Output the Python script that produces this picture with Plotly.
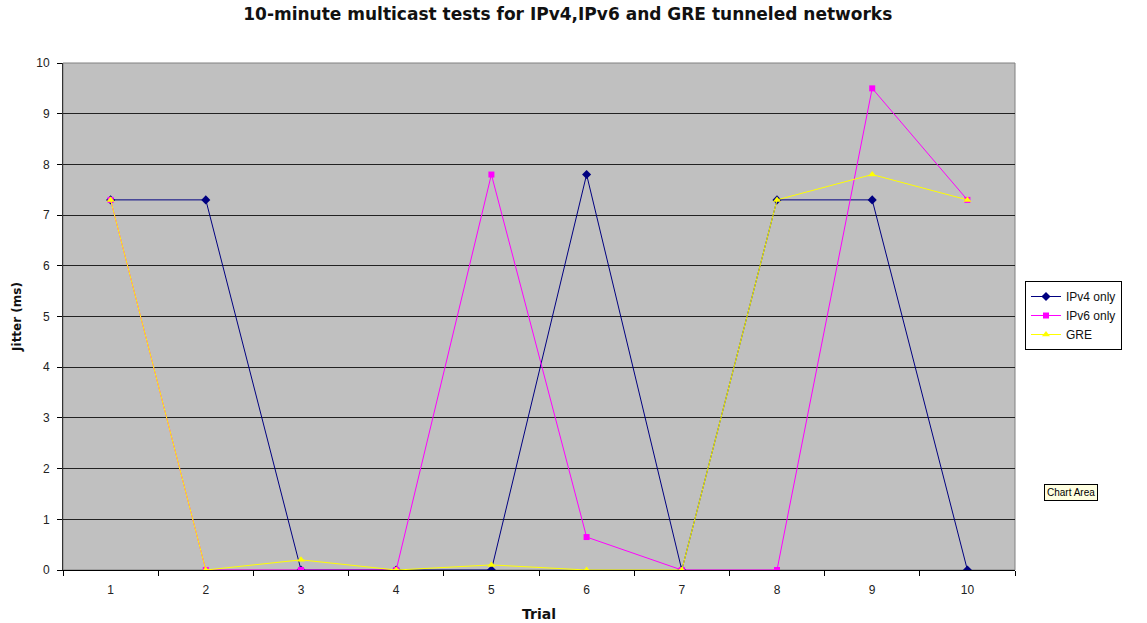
import plotly.graph_objects as go

trials = ["1", "2", "3", "4", "5", "6", "7", "8", "9", "10"]
ipv4 = [7.3, 7.3, 0, 0, 0, 7.8, 0, 7.3, 7.3, 0]
ipv6 = [7.3, 0, 0, 0, 7.8, 0.65, 0, 0, 9.5, 7.3]
gre = [7.3, 0, 0.2, 0, 0.1, 0, 0, 7.3, 7.8, 7.3]
y_ticks = [0, 1, 2, 3, 4, 5, 6, 7, 8, 9, 10]

fig = go.Figure()
fig.add_trace(go.Scatter(x=trials, y=ipv4, name="IPv4 only", mode="lines+markers",
                         line=dict(color="#000080", width=1),
                         marker=dict(symbol="diamond", size=7, color="#000080")))
fig.add_trace(go.Scatter(x=trials, y=ipv6, name="IPv6 only", mode="lines+markers",
                         line=dict(color="#FF00FF", width=1),
                         marker=dict(symbol="square", size=6, color="#FF00FF")))
fig.add_trace(go.Scatter(x=trials, y=gre, name="GRE", mode="lines+markers",
                         line=dict(color="#FFFF00", width=1),
                         marker=dict(symbol="triangle-up", size=7, color="#FFFF00")))

font = "Liberation Sans, Arial, sans-serif"
bold = "DejaVu Sans, sans-serif"
fig.update_layout(
    width=1147, height=623,
    margin=dict(l=63, r=132, t=63, b=53),
    paper_bgcolor="white", plot_bgcolor="#C0C0C0",
    font=dict(family=font, size=12, color="#222222"),
    title=dict(text="<b>10-minute multicast tests for IPv4,IPv6 and GRE tunneled networks</b>",
               x=0.495, xanchor="center", y=0.977, yanchor="middle",
               font=dict(family=bold, size=17, color="#111111")),
    showlegend=True,
    legend=dict(x=1.0105, y=0.57, xanchor="left", yanchor="top",
                bgcolor="white", bordercolor="black", borderwidth=1,
                font=dict(size=12, color="#111111"), tracegroupgap=0,
                itemwidth=30),
    xaxis=dict(type="category", tickson="boundaries", ticks="outside", ticklen=5,
               tickcolor="black", showline=True, linecolor="black", linewidth=1,
               showgrid=False, zeroline=False, range=[-0.5, 9.5], ticklabelstandoff=9,
               automargin=False,
               title=dict(text="<b>Trial</b>", font=dict(family=bold, size=14, color="#111111"), standoff=12)),
    yaxis=dict(range=[0, 10], tickvals=y_ticks, ticks="outside", ticklen=5,
               tickcolor="black", showline=True, linecolor="#333333", linewidth=1,
               showgrid=True, gridcolor="#222222", gridwidth=1, zeroline=False,
               ticklabelstandoff=5, automargin=False,
               title=dict(text="<b>Jitter (ms)</b>", font=dict(family=bold, size=12, color="#111111"), standoff=12)),
)

fig.add_shape(type="rect", xref="paper", yref="paper", x0=0, x1=1, y0=0, y1=1,
              line=dict(color="#808080", width=1), fillcolor="rgba(0,0,0,0)", layer="below")

fig.add_annotation(text="Chart Area", xref="paper", yref="paper", x=1.0305, y=0.153,
                   xanchor="left", yanchor="middle", showarrow=False,
                   font=dict(size=10, color="black", family="Liberation Sans, Arial"),
                   bgcolor="#FFFFE1", bordercolor="black", borderwidth=1, borderpad=2)

fig.write_html("out.html")
